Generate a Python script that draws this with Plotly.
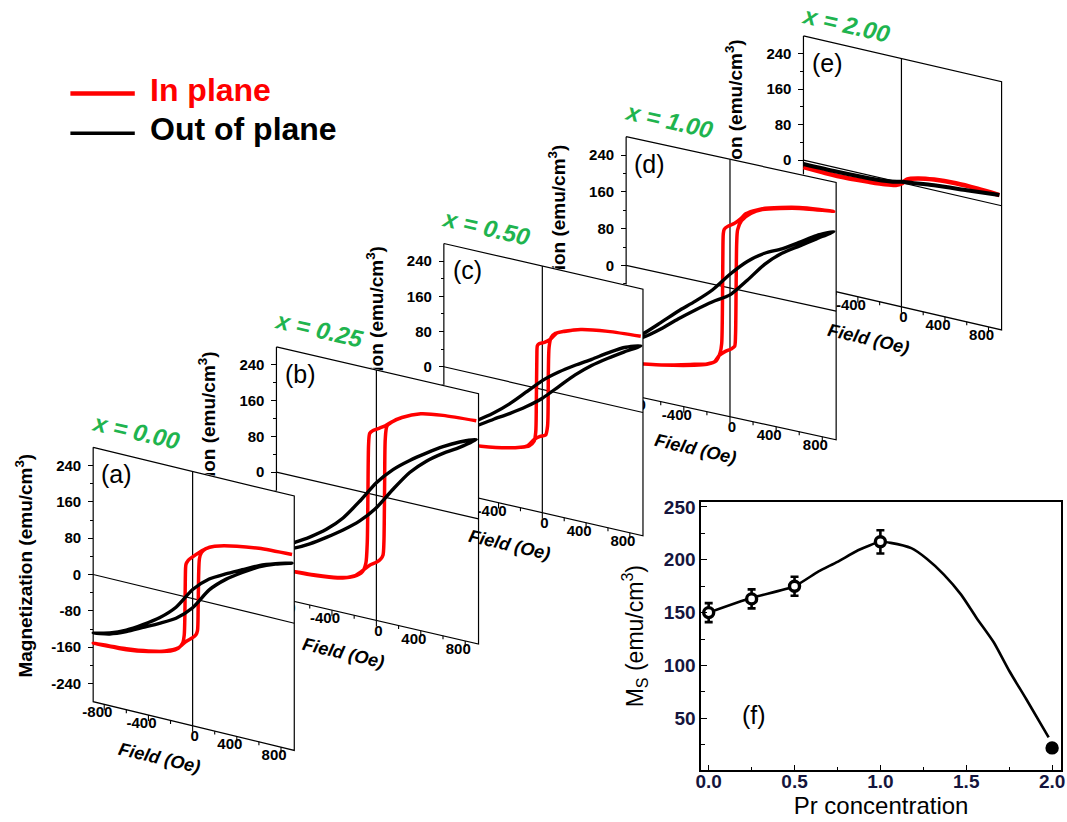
import plotly.graph_objects as go

W, HT = 1067, 822
FONT = "Liberation Sans, Arial, sans-serif"
RED = "#ff0000"
BLACK = "#000000"
GREEN = "#1fb44f"

# ---------------- data ----------------
conc_labels = ["x = 0.00", "x = 0.25", "x = 0.50", "x = 1.00", "x = 2.00"]
panel_tags = ["(a)", "(b)", "(c)", "(d)", "(e)"]
y_title = "Magnetization (emu/cm<sup>3</sup>)"
x_title = "Field (Oe)"
y_ticks = [-240, -160, -80, 0, 80, 160, 240]
y_minor = [-200, -120, -40, 40, 120, 200]
x_ticks = [-800, -400, 0, 400, 800]
x_minor = [-600, -200, 200, 600]

# (a) x = 0.00  (field in Oe, magnetization in emu/cm3; descending then ascending branch)
a_in_H = [900, 600, 400, 200, 120, 60, 0, -40, -60, -66, -70, -76, -90, -130, -200, -400, -600, -900,
          -600, -400, -250, -135, -60, 0, 30, 44, 50, 55, 62, 80, 120, 200, 400, 600, 900]
a_in_M = [150, 146, 139, 127, 117, 105, 92, 82, 72, 40, -40, -85, -103, -117, -127, -139, -146, -151,
          -148, -140, -130, -117, -98, -86, -78, -68, -20, 60, 92, 106, 117, 127, 139, 146, 150]
a_out_H = [900, 750, 600, 450, 300, 150, 0, -150, -300, -450, -600, -750, -900,
           -750, -600, -450, -300, -150, 0, 150, 300, 450, 600, 750, 900]
a_out_M = [131, 121, 108, 90, 72, 52, 20, -28, -60, -84, -105, -120, -129,
           -122, -108, -90, -72, -52, -20, 28, 60, 84, 105, 120, 131]

# (b) x = 0.25
b_in_H = [900, 600, 400, 230, 140, 80, 30, -30, -60, -70, -76, -82, -95, -125, -200, -350, -550, -900,
          -550, -350, -200, -125, -60, 0, 40, 60, 68, 74, 80, 95, 140, 230, 400, 600, 900]
b_in_M = [218, 213, 205, 187, 172, 160, 152, 143, 135, 110, 0, -110, -158, -178, -193, -204, -210, -215,
          -211, -205, -192, -176, -160, -150, -140, -130, -100, 20, 130, 160, 172, 187, 205, 213, 218]
b_out_H = [900, 750, 600, 450, 300, 150, 0, -150, -300, -450, -600, -750, -900,
           -750, -600, -450, -300, -150, 0, 150, 300, 450, 600, 750, 900]
b_out_M = [176, 162, 143, 120, 95, 66, 28, -22, -68, -102, -128, -150, -176,
           -162, -143, -120, -95, -66, -28, 22, 68, 102, 128, 150, 176]

# (c) x = 0.50
c_in_H = [900, 600, 350, 135, 74, 20, -30, -45, -50, -55, -60, -75, -120, -200, -320, -560, -900,
          -560, -320, -200, -135, -74, -20, 30, 48, 55, 62, 80, 120, 200, 350, 600, 900]
c_in_M = [172, 166, 156, 136, 118, 108, 102, 97, 70, -40, -100, -122, -135, -143, -151, -161, -170,
          -161, -151, -143, -136, -118, -108, -102, -80, 40, 100, 122, 134, 143, 156, 166, 172]
c_out_H = [900, 750, 600, 450, 300, 150, 0, -150, -300, -450, -600, -750, -900,
           -750, -600, -450, -300, -150, 0, 150, 300, 450, 600, 750, 900]
c_out_M = [150, 138, 117, 94, 72, 48, 20, -15, -50, -80, -105, -128, -148,
           -138, -117, -94, -72, -48, -20, 15, 50, 80, 105, 128, 150]

# (d) x = 1.00
d_in_H = [900, 600, 280, 136, 94, 40, -20, -50, -58, -62, -66, -72, -85, -120, -200, -310, -595, -900,
          -595, -310, -200, -136, -94, -40, 10, 40, 48, 53, 58, 66, 100, 180, 280, 600, 900]
d_in_M = [216, 208, 188, 169, 156, 143, 133, 125, 115, 60, -60, -125, -145, -165, -176, -183, -200, -212,
          -200, -185, -177, -168, -152, -140, -132, -125, -100, 0, 100, 130, 152, 172, 186, 206, 216]
d_out_H = [900, 750, 600, 450, 300, 150, 0, -150, -300, -450, -600, -750, -900,
           -750, -600, -450, -300, -150, 0, 150, 300, 450, 600, 750, 900]
d_out_M = [172, 155, 132, 110, 92, 66, 30, -12, -45, -75, -108, -140, -165,
           -148, -122, -92, -64, -38, -15, 25, 68, 100, 124, 148, 172]

# (e) x = 2.00
e_in_H = [-900, -700, -500, -300, -150, -50, 0, 50, 150, 300, 500, 700, 900]
e_in_M = [-16, -18, -18, -15, -12, -8, -2, 10, 18, 24, 27, 26, 23]
e_out_H = [-900, -600, -300, -100, 0, 100, 300, 600, 900]
e_out_M = [-9, -9, -7, -3, 2, 5, 11, 17, 23]

# (f) saturation magnetization vs Pr concentration
pr_conc = [0.0, 0.25, 0.5, 1.0, 2.0]
ms_vals = [150, 163, 175, 217, 22]
ms_err = [9, 9, 9, 11, 0]
fit_x = [0.0, 0.25, 0.5, 0.64, 0.75, 0.87, 1.0, 1.06, 1.18, 1.27, 1.37, 1.47, 1.56, 1.66, 1.75, 1.85, 1.98]
fit_y = [150, 164, 175, 189, 198, 209, 217, 216, 211, 201, 186, 167, 145, 122, 95, 68, 32]
f_xticks = [0.0, 0.5, 1.0, 1.5, 2.0]
f_xlabels = ["0.0", "0.5", "1.0", "1.5", "2.0"]
f_xminor = [0.25, 0.75, 1.25, 1.75]
f_yticks = [50, 100, 150, 200, 250]
f_yminor = [25, 75, 125, 175, 225]

# ---------------- layout helpers ----------------
HLO, HHI, MLIM = -900, 920, 280

# drawn back (e) to front (a)
panels = [
    dict(tag=panel_tags[4], label=conc_labels[4], L=805, R=1005, z=156, drop=46, s=0.446, ldy=-11,
         curves=[(e_in_H, e_in_M, RED, 4.5), (e_out_H, e_out_M, BLACK, 4)]),
    dict(tag=panel_tags[3], label=conc_labels[3], L=626, R=838, z=262, drop=46, s=0.4625, ldy=-16,
         curves=[(d_in_H, d_in_M, RED, 3.5), (d_out_H, d_out_M, BLACK, 3.4)]),
    dict(tag=panel_tags[2], label=conc_labels[2], L=442, R=643, z=364, drop=46, s=0.443, ldy=-16,
         curves=[(c_in_H, c_in_M, RED, 3.5), (c_out_H, c_out_M, BLACK, 3.4)]),
    dict(tag=panel_tags[1], label=conc_labels[1], L=273, R=477, z=470, drop=47, s=0.45, ldy=-18,
         curves=[(b_in_H, b_in_M, RED, 3.5), (b_out_H, b_out_M, BLACK, 3.4)]),
    dict(tag=panel_tags[0], label=conc_labels[0], L=88, R=291, z=573, drop=49, s=0.457, ldy=-16,
         curves=[(a_in_H, a_in_M, RED, 3.5), (a_out_H, a_out_M, BLACK, 3.4)]),
]

fig = go.Figure()
axes = {}
annotations = []

for i, p in enumerate(panels, start=1):
    sfx = "" if i == 1 else str(i)
    xa, ya = "x" + sfx, "y" + sfx
    ta = "y" + str(6 + i)          # overlay axis that carries the magnetization title
    s, L, R, z = p["s"], p["L"], p["R"], p["z"]
    sx = (R - L) / (HHI - HLO)
    k = p["drop"] / s / (HHI - HLO)

    def sh(hs, ms, k=k):
        return [None if (h is None or m is None) else m - k * (h - HLO) for h, m in zip(hs, ms)]

    pad = 4
    ybot = -MLIM - (p["drop"] + 62) / s
    ytop = MLIM + pad / s
    yax = dict(range=[ybot, ytop], showgrid=False, zeroline=False, fixedrange=True)
    axes["xaxis" + sfx] = dict(domain=[(L - pad) / W, (R + pad) / W],
                               range=[HLO - pad / sx, HHI + pad / sx],
                               visible=False, anchor=ya, fixedrange=True)
    axes["yaxis" + sfx] = dict(yax, domain=[1 - (z - ybot * s) / HT, 1 - (z - ytop * s) / HT],
                               anchor="free", position=L / W, showline=False,
                               ticks="outside", ticklen=5, tickwidth=1.2, tickcolor="black",
                               tickvals=y_ticks, ticktext=[str(v) for v in y_ticks],
                               ticklabelstandoff=4,
                               tickfont=dict(family=FONT, size=15, color="black", weight="bold"),
                               minor=dict(tickvals=y_minor, ticks="outside", ticklen=3,
                                          tickwidth=1.0, tickcolor="black"))
    axes["yaxis" + str(6 + i)] = dict(yax, overlaying=ya, anchor="free", position=(L - 58) / W,
                                       showline=False, ticks="", tickvals=[6 / s],
                                       ticktext=[y_title], tickangle=-90,
                                       tickfont=dict(family=FONT, size=19, color="black",
                                                     weight="bold"))

    # white sheet of the panel (hides the panels behind it)
    off = 1.0 / s
    bgH = [HLO, HHI, HHI, HLO, HLO]
    bgM = [MLIM + off, MLIM + off, -MLIM, -MLIM, MLIM + off]
    fig.add_trace(go.Scatter(x=bgH, y=sh(bgH, bgM), mode="lines", fill="toself",
                             fillcolor="white", line=dict(width=0, color="white"),
                             hoverinfo="skip", showlegend=False, xaxis=xa, yaxis=ya))
    # anchor trace for the title axis
    fig.add_trace(go.Scatter(x=[HLO], y=[0], mode="markers", marker=dict(opacity=0, size=1),
                             hoverinfo="skip", showlegend=False, xaxis=xa, yaxis=ta))

    # frame, zero line and H = 0 line
    fH = [HLO, HHI, HHI, HLO, HLO, None, HLO, HHI, None, 0, 0]
    fM = [MLIM, MLIM, -MLIM, -MLIM, MLIM, None, 0, 0, None, MLIM, -MLIM]
    fig.add_trace(go.Scatter(x=fH, y=sh(fH, fM), mode="lines",
                             line=dict(color="black", width=1.2),
                             hoverinfo="skip", showlegend=False, xaxis=xa, yaxis=ya))

    # ticks along the slanted field axis
    tH, tM = [], []
    for t in x_ticks:
        tH += [t, t, None]
        tM += [-MLIM, -MLIM - 6 / s, None]
    for t in x_minor:
        tH += [t, t, None]
        tM += [-MLIM, -MLIM - 3.5 / s, None]
    fig.add_trace(go.Scatter(x=tH, y=sh(tH, tM), mode="lines",
                             line=dict(color="black", width=1.1),
                             hoverinfo="skip", showlegend=False, xaxis=xa, yaxis=ya))

    # hysteresis loops
    for hs, ms, col, lw in p["curves"]:
        fig.add_trace(go.Scatter(x=hs, y=sh(hs, ms), mode="lines",
                                 line=dict(color=col, width=lw, shape="spline", smoothing=0.7),
                                 hoverinfo="skip", showlegend=False, xaxis=xa, yaxis=ya))

    # field tick labels
    lH = [t + (2 if t == 0 else -7) / sx for t in x_ticks]
    lM = [-MLIM - 11 / s] * len(x_ticks)
    fig.add_trace(go.Scatter(x=lH, y=sh(lH, lM), mode="text", text=[str(t) for t in x_ticks],
                             textposition="middle center", cliponaxis=False,
                             textfont=dict(family=FONT, size=15, color="black", weight="bold"),
                             hoverinfo="skip", showlegend=False, xaxis=xa, yaxis=ya))

    # field axis title
    annotations.append(dict(xref=xa, yref=ya, x=-300, y=sh([-300], [-MLIM])[0] - 40 / s,
                            xanchor="center", yanchor="middle",
                            text=x_title, showarrow=False, textangle=13,
                            font=dict(family=FONT, size=18, color="black",
                                      weight="bold", style="italic")))
    top_px = z - MLIM * s
    annotations.append(dict(xref="paper", yref="paper", x=(L + 24) / W, y=1 - (top_px + 27) / HT,
                            xanchor="center", yanchor="middle", text=p["tag"], showarrow=False,
                            font=dict(family=FONT, size=25, color="black")))
    annotations.append(dict(xref="paper", yref="paper", x=(L + 43) / W,
                            y=1 - (top_px + p["ldy"]) / HT,
                            xanchor="center", yanchor="middle", text=p["label"], showarrow=False,
                            textangle=13,
                            font=dict(family=FONT, size=24, color=GREEN,
                                      weight="bold", style="italic")))

# ---------------- panel (f) ----------------
fig.add_trace(go.Scatter(x=fit_x, y=fit_y, mode="lines",
                         line=dict(color="black", width=2.6, shape="spline", smoothing=0.6),
                         hoverinfo="skip", showlegend=False, xaxis="x6", yaxis="y6"))
fig.add_trace(go.Scatter(x=pr_conc, y=ms_vals, mode="markers", cliponaxis=False,
                         marker=dict(symbol="circle", size=10,
                                     color=["white", "white", "white", "white", "black"],
                                     line=dict(color="black", width=3.4)),
                         error_y=dict(type="data", array=ms_err, visible=True,
                                      color="black", thickness=2.6, width=4),
                         hoverinfo="skip", showlegend=False, xaxis="x6", yaxis="y6"))

TICKCOL = "#15153d"
axes["xaxis6"] = dict(domain=[701.7 / W, 1065 / W], range=[-0.044, 2.052], anchor="y6",
                      showline=True, linecolor="black", linewidth=1.5, mirror=True,
                      showgrid=False, zeroline=False,
                      ticks="inside", ticklen=6, tickwidth=1.3, tickcolor="black",
                      tickvals=f_xticks, ticktext=f_xlabels, ticklabeloverflow="allow",
                      ticklabelstandoff=-7,
                      tickfont=dict(family=FONT, size=19, color=TICKCOL, weight="bold"),
                      minor=dict(tickvals=f_xminor, ticks="inside", ticklen=4,
                                 tickwidth=1.1, tickcolor="black"),
                      title=dict(text="Pr concentration", standoff=6,
                                 font=dict(family=FONT, size=24, color="black")),
                      fixedrange=True)
axes["yaxis6"] = dict(domain=[1 - 770 / HT, 1 - 500 / HT], range=[0.8, 254.7], anchor="x6",
                      showline=True, linecolor="black", linewidth=1.5, mirror=True,
                      showgrid=False, zeroline=False,
                      ticks="inside", ticklen=6, tickwidth=1.3, tickcolor="black",
                      tickvals=f_yticks, ticktext=[str(v) for v in f_yticks],
                      tickfont=dict(family=FONT, size=19, color=TICKCOL, weight="bold"),
                      minor=dict(tickvals=f_yminor, ticks="inside", ticklen=4,
                                 tickwidth=1.1, tickcolor="black"),
                      title=dict(text="M<sub>S</sub> (emu/cm<sup>3</sup>)", standoff=14,
                                 font=dict(family=FONT, size=23, color="black")),
                      fixedrange=True)
annotations.append(dict(xref="paper", yref="paper", x=755 / W, y=1 - 714 / HT, text="(f)",
                        xanchor="center", yanchor="middle",
                        showarrow=False, font=dict(family=FONT, size=25, color="black")))

# ---------------- legend ----------------
shapes = [
    dict(type="line", xref="paper", yref="paper", x0=65 / W, x1=130 / W,
         y0=1 - 89 / HT, y1=1 - 89 / HT, line=dict(color=RED, width=4.5)),
    dict(type="line", xref="paper", yref="paper", x0=65 / W, x1=130 / W,
         y0=1 - 129 / HT, y1=1 - 129 / HT, line=dict(color=BLACK, width=3.5)),
]
annotations.append(dict(xref="paper", yref="paper", x=143 / W, y=1 - 86 / HT, xanchor="left",
                        yanchor="middle", text="In plane", showarrow=False,
                        font=dict(family=FONT, size=32, color=RED, weight="bold")))
annotations.append(dict(xref="paper", yref="paper", x=143 / W, y=1 - 125 / HT, xanchor="left",
                        yanchor="middle", text="Out of plane", showarrow=False,
                        font=dict(family=FONT, size=32, color=BLACK, weight="bold")))

fig.update_layout(width=W, height=HT, margin=dict(l=0, r=0, t=0, b=0),
                  paper_bgcolor="white", plot_bgcolor="rgba(0,0,0,0)",
                  showlegend=False, annotations=annotations, shapes=shapes,
                  font=dict(family=FONT), **axes)

fig.write_html("out.html", config={"displayModeBar": False},
               post_script="document.body.style.margin='0px';")
